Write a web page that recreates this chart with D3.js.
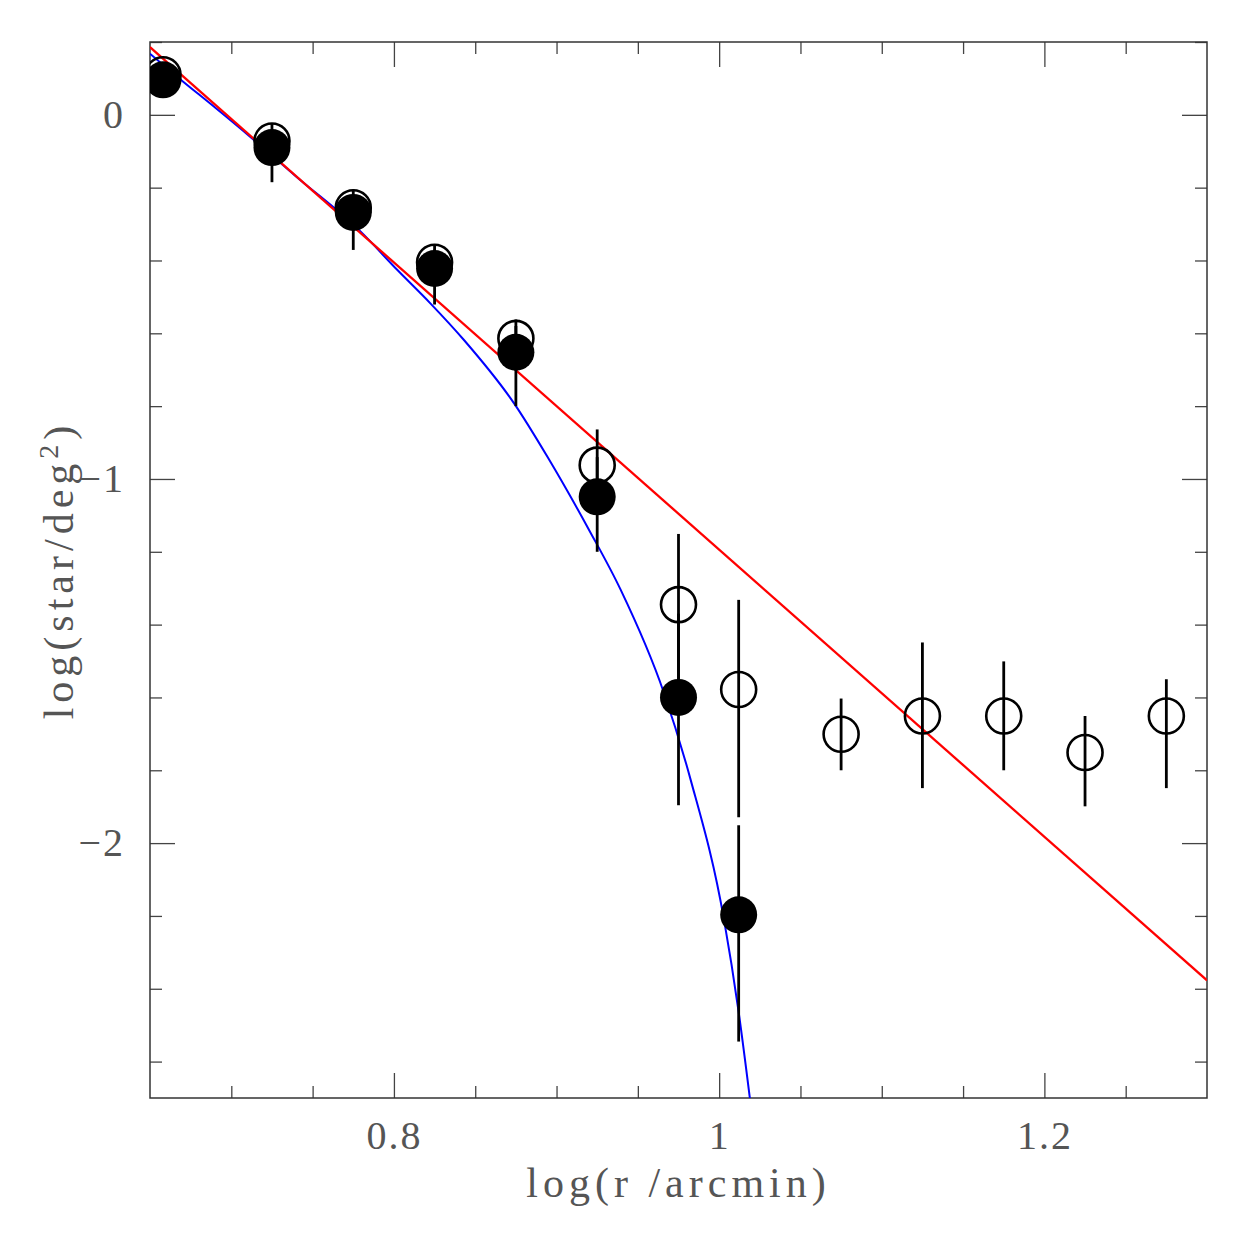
<!DOCTYPE html>
<html>
<head>
<meta charset="utf-8">
<script src="https://cdn.jsdelivr.net/npm/d3@7"></script>
<style>
	body { margin: 0; background: #fff; }
	text { font-family: "Liberation Serif", serif; fill: #555; }
</style>
</head>
<body>
<div id="content"></div>
<script>

// open circles: all stars
var rOpen = [0.658, 0.725, 0.775, 0.825, 0.875, 0.925, 0.975, 1.012, 1.075, 1.125, 1.175, 1.225, 1.275];
var yOpen = [0.11, -0.072, -0.255, -0.405, -0.614, -0.962, -1.345, -1.578, -1.701, -1.651, -1.651, -1.751, -1.651];
var yOpenLo = [0.08, -0.12, -0.30, -0.45, -0.66, -1.07, -1.62, -1.929, -1.80, -1.849, -1.80, -1.899, -1.849];
var yOpenHi = [0.14, -0.024, -0.205, -0.355, -0.562, -0.864, -1.151, -1.332, -1.603, -1.449, -1.501, -1.651, -1.55];

// filled circles: background subtracted
var rFill = [0.658, 0.725, 0.775, 0.825, 0.875, 0.925, 0.975, 1.012];
var yFill = [0.096, -0.09, -0.268, -0.422, -0.652, -1.049, -1.60, -2.197];
var yFillLo = [0.07, -0.185, -0.371, -0.521, -0.80, -1.20, -1.896, -2.545];
var yFillHi = [0.12, -0.05, -0.22, -0.37, -0.58, -0.94, -1.37, -1.951];

// fitted profiles
var powerR = [0.65, 1.30];
var powerY = [0.186, -2.377];

var kingR = [0.65, 0.668, 0.69, 0.711, 0.74, 0.7785, 0.8023, 0.8227, 0.8432, 0.874, 0.8944, 0.92, 0.9394, 0.966, 0.9824, 1.0029, 1.012, 1.0189];
var kingY = [0.168, 0.10, 0.02, -0.058, -0.17, -0.316, -0.427, -0.519, -0.619, -0.793, -0.939, -1.14, -1.304, -1.587, -1.825, -2.208, -2.464, -2.701];

var xMajor = [0.8, 1.0, 1.2];
var xMinor = [0.7, 0.75, 0.85, 0.9, 0.95, 1.05, 1.1, 1.15, 1.25];
var yMajor = [0, -1, -2];
var yMinor = [0.2, -0.2, -0.4, -0.6, -0.8, -1.2, -1.4, -1.6, -1.8, -2.2, -2.4, -2.6];

var x0 = 150, x1 = 1207, y0 = 42, y1 = 1098;

var x = d3.scaleLinear().domain([0.65, 1.30]).range([x0, x1]);
var y = d3.scaleLinear().domain([-2.7, 0.2]).range([y1, y0]);

var svg = d3.select("#content").append("svg")
	.attr("width", 1240).attr("height", 1238);

svg.append("clipPath").attr("id", "plotClip")
	.append("rect").attr("x", x0).attr("y", y0)
	.attr("width", x1 - x0).attr("height", y1 - y0);

// ticks on all four sides, pointing inwards
var addAxis = function (axis, tx, ty, labels) {
	var g = svg.append("g").attr("transform", "translate(" + tx + "," + ty + ")").call(axis);
	g.select(".domain").remove();
	g.selectAll("line").attr("stroke", "#444").attr("stroke-width", 1.3);
	g.selectAll("text").style("font-size", "40px").style("letter-spacing", "2px")
		.attr("font-family", null).style("fill", "#555");
	if (!labels) g.selectAll("text").remove();
	return g;
};

var fmtX = function (d) { return d == 1 ? "1" : d3.format(".1f")(d); };
var fmtY = function (d) { return d3.format("d")(d); };

addAxis(d3.axisBottom(x).tickValues(xMajor).tickSize(-25).tickPadding(23).tickFormat(fmtX), 0, y1, true);
addAxis(d3.axisBottom(x).tickValues(xMinor).tickSize(-12), 0, y1, false);
addAxis(d3.axisTop(x).tickValues(xMajor).tickSize(-25), 0, y0, false);
addAxis(d3.axisTop(x).tickValues(xMinor).tickSize(-12), 0, y0, false);

addAxis(d3.axisLeft(y).tickValues(yMajor).tickSize(-25).tickPadding(25).tickFormat(fmtY), x0, 0, true);
addAxis(d3.axisLeft(y).tickValues(yMinor).tickSize(-12), x0, 0, false);
addAxis(d3.axisRight(y).tickValues(yMajor).tickSize(-25), x1, 0, false);
addAxis(d3.axisRight(y).tickValues(yMinor).tickSize(-12), x1, 0, false);

svg.append("rect")
	.attr("x", x0).attr("y", y0)
	.attr("width", x1 - x0).attr("height", y1 - y0)
	.attr("fill", "none").attr("stroke", "#333").attr("stroke-width", 1.5);

var plot = svg.append("g").attr("clip-path", "url(#plotClip)");

var line = d3.line()
	.x(function (d) { return x(d[0]); })
	.y(function (d) { return y(d[1]); });

plot.append("path")
	.datum(kingR.map(function (r, i) { return [r, kingY[i]]; }))
	.attr("d", line.curve(d3.curveMonotoneX))
	.attr("fill", "none").attr("stroke", "#0000ff").attr("stroke-width", 2);

plot.append("path")
	.datum(powerR.map(function (r, i) { return [r, powerY[i]]; }))
	.attr("d", line.curve(d3.curveLinear))
	.attr("fill", "none").attr("stroke", "#ff0000").attr("stroke-width", 2.3);

// error bars
plot.selectAll("line.errOpen").data(rOpen)
	.enter().append("line").attr("class", "errOpen")
	.attr("x1", function (d) { return x(d); })
	.attr("x2", function (d) { return x(d); })
	.attr("y1", function (d, i) { return y(yOpenLo[i]); })
	.attr("y2", function (d, i) { return y(yOpenHi[i]); })
	.attr("stroke", "#000").attr("stroke-width", 2.8);

plot.selectAll("line.errFill").data(rFill)
	.enter().append("line").attr("class", "errFill")
	.attr("x1", function (d) { return x(d); })
	.attr("x2", function (d) { return x(d); })
	.attr("y1", function (d, i) { return y(yFillLo[i]); })
	.attr("y2", function (d, i) { return y(yFillHi[i]); })
	.attr("stroke", "#000").attr("stroke-width", 2.8);

plot.selectAll("circle.open").data(rOpen)
	.enter().append("circle").attr("class", "open")
	.attr("cx", function (d) { return x(d); })
	.attr("cy", function (d, i) { return y(yOpen[i]); })
	.attr("r", 17.5)
	.attr("fill", "none").attr("stroke", "#000").attr("stroke-width", 2.6);

plot.selectAll("circle.fill").data(rFill)
	.enter().append("circle").attr("class", "fill")
	.attr("cx", function (d) { return x(d); })
	.attr("cy", function (d, i) { return y(yFill[i]); })
	.attr("r", 18.5)
	.attr("fill", "#000");

// axis titles
svg.append("text")
	.attr("x", (x0 + x1) / 2).attr("y", 1197)
	.attr("text-anchor", "middle")
	.style("font-size", "42px").style("letter-spacing", "5px")
	.text("log(r /arcmin)");

var yTitle = svg.append("text")
	.attr("transform", "translate(73," + ((y0 + y1) / 2) + ") rotate(-90)")
	.attr("text-anchor", "middle")
	.style("font-size", "42px").style("letter-spacing", "5px");
yTitle.append("tspan").text("log(star/deg");
yTitle.append("tspan").attr("baseline-shift", "super").style("font-size", "28px").text("2");
yTitle.append("tspan").text(")");

</script>
</body>
</html>
